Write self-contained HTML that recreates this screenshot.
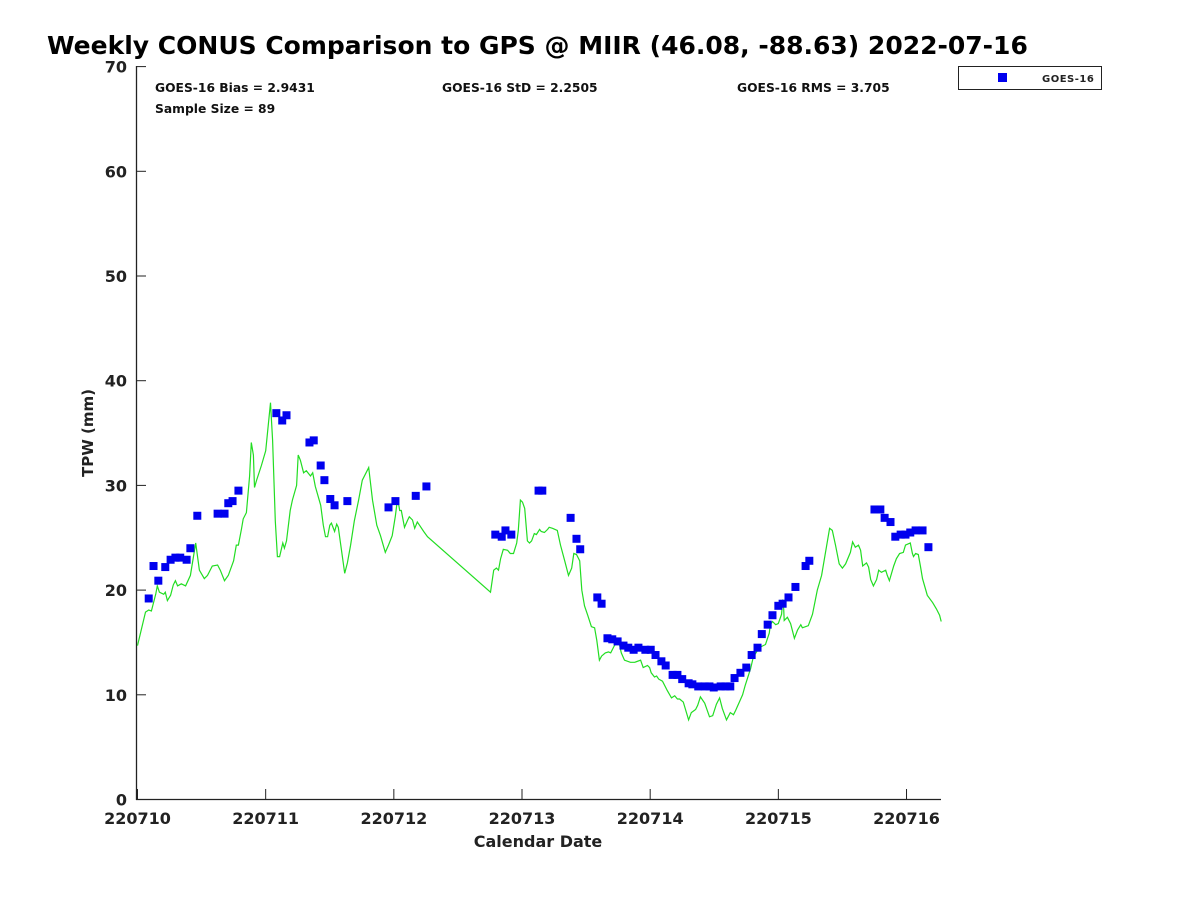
<!DOCTYPE html>
<html><head><meta charset="utf-8">
<style>
body{margin:0;background:#fff;}
svg{display:block;font-family:"DejaVu Sans","Liberation Sans",sans-serif;font-weight:bold;}
</style></head>
<body>
<svg id="chart" width="1200" height="900">
<rect width="1200" height="900" fill="#fff"/>
<text x="47" y="54" font-size="25" fill="#000">Weekly CONUS Comparison to GPS @ MIIR (46.08, -88.63) 2022-07-16</text>
<g id="axes"></g>
<g id="series"></g>
<text x="155" y="92" font-size="12.3" fill="#111">GOES-16 Bias = 2.9431</text>
<text x="155" y="113" font-size="12.3" fill="#111">Sample Size = 89</text>
<text x="442" y="92" font-size="12.3" fill="#111">GOES-16 StD = 2.2505</text>
<text x="737" y="92" font-size="12.3" fill="#111">GOES-16 RMS = 3.705</text>
<g>
<rect x="958.5" y="66.5" width="143" height="23" fill="#fff" stroke="#222" stroke-width="1"/>
<rect x="998" y="73" width="9" height="9" fill="#0000ee"/>
<text x="1042" y="82" font-size="10" fill="#222" letter-spacing="0.5">GOES-16</text>
</g>
<text x="538" y="847" font-size="16" fill="#222" text-anchor="middle">Calendar Date</text>
<text transform="translate(93,433) rotate(-90)" font-size="15" fill="#222" text-anchor="middle">TPW (mm)</text>
</svg>
<script>
const xTickLabels=["220710","220711","220712","220713","220714","220715","220716"];
const yTickValues=[0,10,20,30,40,50,60,70];
const gpsHours=[0,1.5,2.1,2.6,3.4,3.7,4.1,4.9,5.2,5.6,6.2,6.7,7.1,7.5,8.2,9.0,9.9,10.9,11.6,12.5,13.1,14.0,15.0,15.5,16.3,17.0,18.0,18.5,18.9,19.5,19.8,20.4,21.0,21.3,21.7,21.9,22.3,23.2,24.0,24.9,25.3,25.8,26.2,26.6,27.2,27.5,27.9,28.6,29.0,29.8,30.1,30.5,31.1,31.6,32.4,32.8,33.3,34.3,34.8,35.2,35.6,36.0,36.3,36.9,37.3,37.6,38.8,39.3,39.9,40.6,41.4,42.1,43.3,44.0,44.8,45.5,46.4,47.0,47.7,48.3,48.7,49.1,49.4,50.0,50.6,50.9,51.5,51.9,52.4,52.8,53.6,54.3,66.1,66.7,67.2,67.6,68.0,68.5,69.3,69.8,70.4,71.0,71.3,71.7,72.1,72.5,73.0,73.4,73.8,74.3,74.7,75.3,75.6,76.2,76.8,77.1,77.7,78.6,79.2,80.0,80.7,81.3,81.7,82.2,82.8,83.2,83.7,84.3,85.0,85.6,86.0,86.5,86.9,87.6,88.2,88.6,89.3,90.1,90.6,91.2,92.3,93.1,94.2,94.7,95.5,95.9,96.2,96.8,97.2,97.6,98.3,99.2,100.0,100.6,101.1,101.5,102.2,103.2,103.7,104.5,104.9,105.4,106.2,107.1,107.7,108.4,109.0,109.5,110.3,111.0,111.6,112.0,113.3,113.8,114.8,115.3,116.3,116.8,117.6,118.3,118.5,118.9,119.5,120.0,120.6,120.8,121.0,121.1,121.7,122.3,123.0,123.6,124.2,124.5,125.6,126.4,127.3,128.1,129.6,130.1,130.7,131.4,132.0,132.6,133.5,133.9,134.4,135.0,135.4,135.8,136.5,136.9,137.3,137.8,138.4,138.8,139.3,140.1,140.4,140.8,141.6,142.1,142.7,143.4,143.8,144.7,145.1,145.3,145.7,146.2,146.6,147.0,147.9,148.9,149.6,150.2,150.5];
const gpsTpw=[14.7,17.9,18.1,18.0,19.6,20.4,19.8,19.6,19.8,19.0,19.5,20.5,20.9,20.4,20.6,20.4,21.4,24.5,21.9,21.1,21.4,22.3,22.4,21.9,20.9,21.4,22.8,24.3,24.3,25.9,26.8,27.4,30.9,34.1,32.9,29.8,30.5,31.9,33.3,37.9,34.3,26.6,23.2,23.2,24.5,24.0,24.7,27.6,28.6,30.0,32.9,32.4,31.2,31.4,30.9,31.2,29.9,28.1,26.2,25.1,25.1,26.2,26.4,25.6,26.3,26.0,21.6,22.6,24.3,26.6,28.6,30.5,31.7,28.6,26.2,25.2,23.6,24.3,25.2,27.1,28.8,27.6,27.6,26.0,26.7,27.0,26.7,25.9,26.5,26.2,25.6,25.1,19.8,21.9,22.1,21.9,23.0,23.9,23.8,23.5,23.5,24.5,25.7,28.6,28.4,27.8,24.7,24.5,24.7,25.4,25.3,25.8,25.6,25.5,25.8,26.0,25.9,25.7,24.3,22.8,21.4,22.1,23.5,23.4,22.8,20.0,18.5,17.6,16.5,16.4,15.2,13.3,13.7,14.0,14.1,14.0,14.7,15.1,14.0,13.3,13.1,13.1,13.3,12.6,12.8,12.6,12.1,11.7,11.8,11.5,11.3,10.4,9.7,9.9,9.6,9.6,9.3,7.6,8.3,8.6,9.0,9.8,9.2,7.9,8.0,9.1,9.7,8.7,7.6,8.3,8.1,8.5,10.0,10.9,12.5,13.6,14.4,14.6,14.8,15.9,16.7,17.0,16.7,16.8,17.7,19.1,18.2,17.1,17.4,16.8,15.4,16.2,16.7,16.4,16.6,17.7,20.0,21.4,25.9,25.7,24.3,22.5,22.1,22.5,23.6,24.6,24.1,24.3,23.8,22.3,22.6,22.2,21.0,20.4,21.0,21.9,21.7,21.9,21.4,20.9,22.3,23.0,23.5,23.6,24.3,24.5,23.5,23.2,23.5,23.4,22.3,21.1,19.5,18.8,18.2,17.6,17.0];
const goesHours=[2.1,3.0,3.9,5.2,6.2,7.1,8.0,9.2,9.9,11.2,15.0,16.3,17.0,17.8,18.9,26.0,27.1,27.9,32.2,33.0,34.3,35.0,36.1,36.9,39.3,47.0,48.3,52.1,54.1,67.0,68.2,68.9,70.0,75.1,75.8,81.1,82.2,82.9,86.1,86.9,88.0,88.9,89.9,91.0,91.9,92.9,93.8,95.1,96.1,97.0,98.1,98.9,100.2,101.1,102.0,103.2,103.9,105.0,106.2,107.1,107.9,109.2,110.1,111.0,111.8,112.9,114.0,115.0,116.1,116.9,118.0,118.9,120.0,120.8,121.9,123.2,125.1,125.8,138.0,139.1,139.9,141.0,141.9,142.9,143.8,144.7,145.7,147.0,148.1];
const goesTpw=[19.2,22.3,20.9,22.2,22.9,23.1,23.1,22.9,24.0,27.1,27.3,27.3,28.3,28.5,29.5,36.9,36.2,36.7,34.1,34.3,31.9,30.5,28.7,28.1,28.5,27.9,28.5,29.0,29.9,25.3,25.1,25.7,25.3,29.5,29.5,26.9,24.9,23.9,19.3,18.7,15.4,15.3,15.1,14.7,14.5,14.3,14.5,14.3,14.3,13.8,13.2,12.8,11.9,11.9,11.5,11.1,11.0,10.8,10.8,10.8,10.7,10.8,10.8,10.8,11.6,12.1,12.6,13.8,14.5,15.8,16.7,17.6,18.5,18.7,19.3,20.3,22.3,22.8,27.7,27.7,26.9,26.5,25.1,25.3,25.3,25.5,25.7,25.7,24.1];

const NS='http://www.w3.org/2000/svg';
const X0=137.5, PXDAY=128.17, Y0=799.5, PXMM=10.47;
function xs(h){return X0+h/24*PXDAY;}
function ys(v){return Y0-v*PXMM;}
function mk(tag,attrs,parent){const e=document.createElementNS(NS,tag);for(const k in attrs)e.setAttribute(k,attrs[k]);parent.appendChild(e);return e;}
const axes=document.getElementById('axes');
const series=document.getElementById('series');

const yAxis=mk('line',{x1:136.5,y1:66,x2:136.5,y2:800,stroke:'#222','stroke-width':1.3},axes);


const xAxis=mk('line',{x1:136,y1:799.5,x2:941,y2:799.5,stroke:'#222','stroke-width':1.3},axes);



yTickValues.forEach(v=>{
  const t=mk('line',{x1:136,y1:ys(v),x2:146,y2:ys(v),stroke:'#222','stroke-width':1},axes);
  
  
  const l=mk('text',{x:127,y:ys(v)+6,'font-size':16,fill:'#222','text-anchor':'end'},axes);
  l.textContent=v;
  
  
});
xTickLabels.forEach((s,i)=>{
  const x=xs(i*24);
  const t=mk('line',{x1:x,y1:799,x2:x,y2:789,stroke:'#222','stroke-width':1},axes);
  
  
  const l=mk('text',{x:x,y:824,'font-size':16,fill:'#222','text-anchor':'middle'},axes);
  l.textContent=s;
  
  
});

const pts=gpsHours.map((h,i)=>xs(h).toFixed(1)+','+ys(gpsTpw[i]).toFixed(1)).join(' ');
const line=mk('polyline',{points:pts,fill:'none',stroke:'#22dd22','stroke-width':1.2},series);



goesHours.forEach((h,i)=>{
  const r=mk('rect',{x:xs(h)-4,y:ys(goesTpw[i])-4,width:8,height:8,fill:'#0000ee'},series);
  
  
});
</script>
</body></html>
